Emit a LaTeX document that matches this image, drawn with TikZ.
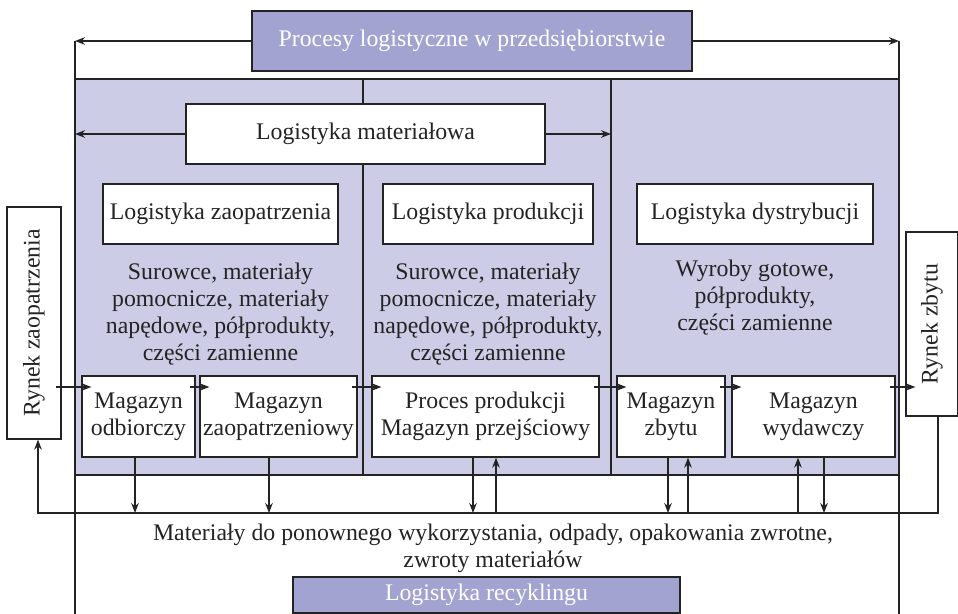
\documentclass[tikz,border=0pt]{standalone}
\usepackage{fontspec}
\setmainfont{Liberation Serif}
\usetikzlibrary{arrows.meta,positioning}

\definecolor{bandblue}{RGB}{163,163,209}
\definecolor{paleblue}{RGB}{204,204,230}
\definecolor{inkgray}{RGB}{35,35,35}

\tikzset{
  box/.style={draw=inkgray, fill=white, text=inkgray, inner sep=0pt, align=center,
    font=\fontsize{11.9}{13.5}\selectfont},
  band/.style={box, fill=bandblue, text=white},
  note/.style={text=inkgray, align=center, inner sep=0pt, font=\fontsize{11.9}{13.5}\selectfont},
  flow/.style={->, shorten <=-3pt, shorten >=-5pt},
}

\begin{document}
\begin{tikzpicture}[x=0.5pt, y=-0.5pt, line width=0.65pt, draw=inkgray,
    >={Stealth[length=5pt,width=3.8pt]}]
  \clip (0,0) rectangle (958,614);
  % frame of the enterprise
  \coordinate (fnw) at (75,79);
  \coordinate (fne) at (899,79);
  \coordinate (fsw) at (75,475);
  \coordinate (fse) at (899,475);
  \coordinate (d1) at (363,79);
  \coordinate (d2) at (611,79);
  \coordinate (row) at (0,387);
  \coordinate (ret) at (0,513);
  \fill[paleblue] (fnw) rectangle (fse);
  \draw (fnw) rectangle (899,640);
  \draw (fsw) -- (fse);

  \node[band, minimum width=220pt, minimum height=30pt] (title) at (472,41) {Procesy logistyczne w przedsiębiorstwie};
  \node[box, minimum width=179.5pt, minimum height=30pt] (matl) at (365.5,134) {Logistyka materiałowa};
  \node[box, minimum width=117.5pt, minimum height=30pt] (lzao) at (220.5,214) {Logistyka zaopatrzenia};
  \node[box, minimum width=105pt, minimum height=30pt] (lprod) at (488,214) {Logistyka produkcji};
  \node[box, minimum width=118pt, minimum height=30pt] (ldys) at (755,214) {Logistyka dystrybucji};

  \node[note, below=9pt of lzao] (tzao) {Surowce, materiały\\pomocnicze, materiały\\napędowe, półprodukty,\\części zamienne};
  \node[note, below=9pt of lprod] (tprod) {Surowce, materiały\\pomocnicze, materiały\\napędowe, półprodukty,\\części zamienne};
  \node[note, below=7.5pt of ldys] (tdys) {Wyroby gotowe,\\półprodukty,\\części zamienne};

  % markets and warehouses
  \node[box, minimum width=27pt, minimum height=116pt] (rzao) at (34,323) {\rotatebox{90}{Rynek zaopatrzenia}};
  \node[box, minimum width=26pt, minimum height=92pt] (rzby) at (932,324) {\rotatebox{90}{Rynek zbytu}};
  \node[box, minimum width=56.5pt, minimum height=40.5pt] (modb) at (138.5,416.5) {Magazyn\\odbiorczy};
  \node[box, minimum width=78.5pt, minimum height=40.5pt] (mzao) at (278.5,416.5) {Magazyn\\zaopatrzeniowy};
  \node[box, minimum width=113.5pt, minimum height=40.5pt] (proc) at (485.5,416.5) {Proces produkcji\\Magazyn przejściowy};
  \node[box, minimum width=54pt, minimum height=40.5pt] (mzby) at (671,416.5) {Magazyn\\zbytu};
  \node[box, minimum width=81.5pt, minimum height=40.5pt] (mwyd) at (813.5,416.5) {Magazyn\\wydawczy};

  \node[note] (rnote) at (493,548.5) {Materiały do ponownego wykorzystania, odpady, opakowania zwrotne,\\zwroty materiałów};
  \node[band, minimum width=193.5pt, minimum height=18pt] (recy) at (486.5,595) {Logistyka recyklingu};

  % top arrows
  \draw[->] (title.west) -- (title.west -| fnw);
  \draw (title.west -| fnw) -- (fnw);
  \draw[->] (title.east) -- (title.east -| fne);
  \draw (title.east -| fne) -- (fne);
  \draw[->] (matl.west) -- (matl.west -| fnw);
  \draw[->] (matl.east) -- (matl.east -| d2);
  \draw (d1) -- (d1 |- matl.north);
  \draw (d1 |- matl.south) -- (d1 |- fsw);
  \draw (d2) -- (d2 |- fsw);

  % material flow
  \draw[flow] (rzao.east |- row) -- (modb.west |- row);
  \draw[flow] (modb.east |- row) -- (mzao.west |- row);
  \draw[flow] (mzao.east |- row) -- (proc.west |- row);
  \draw[flow] (proc.east |- row) -- (mzby.west |- row);
  \draw[flow] (mzby.east |- row) -- (mwyd.west |- row);
  \draw[flow] (mwyd.east |- row) -- (rzby.west |- row);

  % returns
  \draw[->] ([xshift=-1.75pt]modb.south) -- ([xshift=-1.75pt]modb.south |- ret);
  \draw[->] ([xshift=-4.75pt]mzao.south) -- ([xshift=-4.75pt]mzao.south |- ret);
  \draw[->] ([xshift=-6.25pt]proc.south) -- ([xshift=-6.25pt]proc.south |- ret);
  \draw[<-] ([xshift=5.25pt]proc.south) -- ([xshift=5.25pt]proc.south |- ret);
  \draw[->] ([xshift=-1.5pt]mzby.south) -- ([xshift=-1.5pt]mzby.south |- ret);
  \draw[<-] ([xshift=8.5pt]mzby.south) -- ([xshift=8.5pt]mzby.south |- ret);
  \draw[<-] ([xshift=-7.75pt]mwyd.south) -- ([xshift=-7.75pt]mwyd.south |- ret);
  \draw[->] ([xshift=5.25pt]mwyd.south) -- ([xshift=5.25pt]mwyd.south |- ret);
  \draw[->] ([xshift=3pt]rzby.south) |- ([xshift=2pt]rzao.south |- ret) -- ([xshift=2pt]rzao.south);
\end{tikzpicture}
\end{document}
